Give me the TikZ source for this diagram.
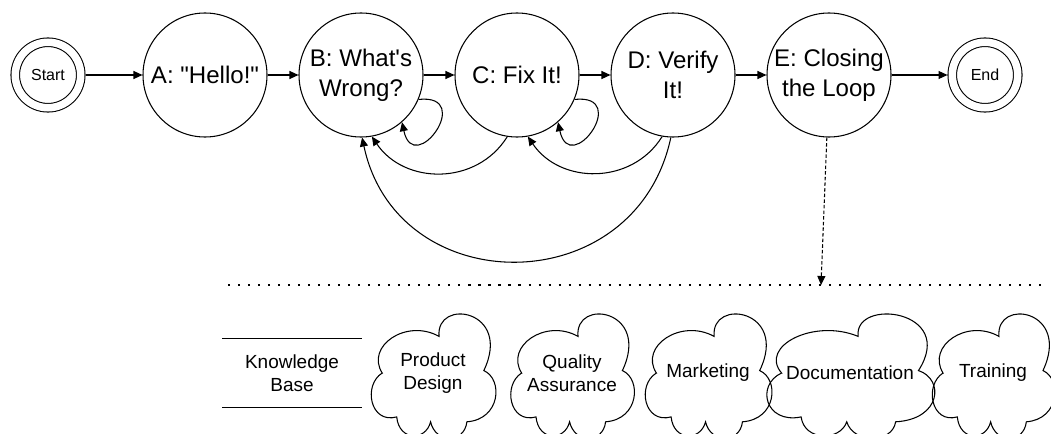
\documentclass[tikz,border=0pt]{standalone}
\usepackage{fontspec}
\setmainfont{Liberation Sans}
\usetikzlibrary{arrows.meta}
\newcommand{\statefont}{\fontsize{13.7}{17}\selectfont}
\newcommand{\termfont}{\fontsize{9.1}{11}\selectfont}
\newcommand{\areafont}{\fontsize{10.8}{13}\selectfont}
\tikzset{
    statebox/.style={draw, circle, minimum size=2.48cm, inner sep=0pt, align=center, font=\statefont},
    term/.style={draw, circle, double, double distance=0.15cm, minimum size=1.31cm, inner sep=0pt, outer sep=0.095cm, font=\termfont},
    solidarr/.style={-{Triangle[length=1.8mm, width=1.6mm]}},
    dashedarr/.style={-{Triangle[length=1.8mm, width=1.6mm]}, dash pattern=on 2pt off 1.2pt},
    dotline/.style={line width=0.9pt, dash pattern=on 1.2pt off 4.5pt},
    storebox/.style={minimum width=2.76cm, minimum height=1.36cm, inner sep=0pt, align=center, font=\areafont},
    areatxt/.style={inner sep=0pt, align=center, font=\areafont},
}
% cloud outline around a label node: #1 node, #2 width, #3 height
\newcommand{\cloudrim}[3]{%
  \draw[shift={(#1.center)}, xscale=#2, yscale=#3]
    (-0.42,0.0) .. controls (-0.56,0.22) and (-0.22,0.45) .. (0.05,0.30)
    .. controls (0.02,0.62) and (0.66,0.52) .. (0.42,0.02)
    .. controls (0.58,-0.05) and (0.56,-0.38) .. (0.28,-0.40)
    .. controls (0.26,-0.58) and (0.02,-0.58) .. (-0.02,-0.40)
    .. controls (-0.06,-0.56) and (-0.28,-0.56) .. (-0.30,-0.36)
    .. controls (-0.52,-0.42) and (-0.58,-0.10) .. cycle;
}

\begin{document}
\begin{tikzpicture}[line width=0.6pt]
\useasboundingbox (0,0) rectangle (21.02,-8.66);
\clip (0,0) rectangle (21.02,-8.66);

% main chain
\node[term] (start) at (0.96,-1.5) {Start};
\node[statebox] (a) at (4.1,-1.5) {A: \textquotedbl Hello!\textquotedbl};
\node[statebox] (b) at (7.22,-1.5) {B: What\textquotesingle s\\Wrong?};
\node[statebox] (c) at (10.34,-1.5) {C: Fix It!};
\node[statebox] (d) at (13.46,-1.5) {D: Verify\\It!};
\node[statebox] (e) at (16.58,-1.5) {E: Closing\\the Loop};
\node[term] (end) at (19.7,-1.5) {End};

\draw[solidarr] (start) -- (a);
\draw[solidarr] (a) -- (b);
\draw[solidarr] (b) -- (c);
\draw[solidarr] (c) -- (d);
\draw[solidarr] (d) -- (e);
\draw[solidarr] (e) -- (end);

% retries
\draw[solidarr] (b.-23) to[out=6, in=-78, looseness=5.2] (b.-49);
\draw[solidarr] (c.-23) to[out=6, in=-78, looseness=5.2] (c.-49);
\draw[solidarr] (c.-99) to[out=-122, in=-56, looseness=1.1] (b.-80);
\draw[solidarr] (d.-100) to[out=-122, in=-56, looseness=1.1] (c.-80);
\draw[solidarr] (d.-92) to[out=-102, in=-78, looseness=1.4] (b.-89);

% hand-off to the teams
\coordinate (rulel) at (4.56,-5.7);
\coordinate (ruler) at (20.96,-5.7);
\coordinate (drop) at (16.42,-5.7);
\draw[dotline] (rulel) -- (ruler);
\draw[dashedarr] (e.-92) -- (drop);

\node[storebox] (kb) at (5.84,-7.46) {Knowledge\\Base};
\draw (kb.north west) -- (kb.north east);
\draw (kb.south west) -- (kb.south east);

\node[areatxt] (pd) at (8.66,-7.46) {Product\\Design};
\node[areatxt] (qa) at (11.44,-7.46) {Quality\\Assurance};
\node[areatxt] (mk) at (14.16,-7.46) {Marketing};
\node[areatxt] (doc) at (17.0,-7.46) {Documentation};
\node[areatxt] (tr) at (19.86,-7.46) {Training};
\cloudrim{pd}{2.42}{2.44}
\cloudrim{qa}{2.4}{2.44}
\cloudrim{mk}{2.46}{2.44}
\cloudrim{doc}{3.26}{2.44}
\cloudrim{tr}{2.38}{2.44}
\end{tikzpicture}
\end{document}
